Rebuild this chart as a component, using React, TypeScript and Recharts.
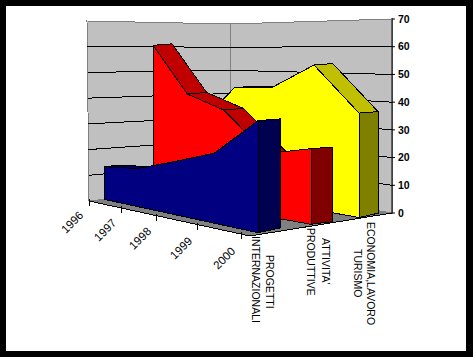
import React from "react";
import { Area, ComposedChart, Line, Scatter, XAxis, YAxis } from "recharts";

const W = 473;
const H = 357;

const YEARS = ["1996", "1997", "1998", "1999", "2000"];
const VALUE_TICKS = [0, 10, 20, 30, 40, 50, 60, 70];

const TURISMO = [28, 44.5, 45.8, 56.3, 39.4];
const ATTIVITA = [61.5, 43, 38.2, 23.5, 27.5];
const PROGETTI = [12.5, 14.2, 19, 24.6, 38];

// where each year falls along the category axis (the picture is in perspective)
const YEAR_POS = [0, 0.217, 0.447, 0.717, 1];

type Pt = [number, number];

const lerp = (a: number, b: number, t: number) => a + (b - a) * t;

// left/right floor ends of a series, px per unit and its thickness
const SERIES = [
  {
    values: TURISMO,
    from: [200, 189], to: [359, 217.5], k: [2.35, 2.65],
    depth: [18, 19], dyTop: -1.5, dyFloor: -4.3,
    front: "#FFFF00", top: "#C0C000", side: "#808000",
  },
  {
    values: ATTIVITA,
    from: [153, 196], to: [311, 224.3], k: [2.45, 2.75],
    depth: [19, 21], dyTop: -1.5, dyFloor: -2.6,
    front: "#FF0000", top: "#C00000", side: "#800000",
  },
  {
    values: PROGETTI,
    from: [104, 199.3], to: [258, 232.7], k: [2.6, 2.95],
    depth: [14, 22], dyTop: -1.7, dyFloor: -4.7,
    front: "#000080", top: "#000060", side: "#000050",
  },
];

// box corners on screen
const LEFT: Pt = [89, 201];
const BACK: Pt = [230, 186];
const RIGHT: Pt = [392, 213];
const FRONT: Pt = [250, 236];
const LEFT_TOP: Pt = [87, 21];
const BACK_TOP: Pt = [230, 24];
const RIGHT_TOP: Pt = [392, 19];

const wallPoint = (bottom: Pt, top: Pt, v: number): Pt => [
  lerp(bottom[0], top[0], v / 70),
  lerp(bottom[1], top[1], v / 70),
];

// split a polygon into [low, high] per x so Area can fill it
function toRange(poly: Pt[]) {
  const xs = Array.from(new Set(poly.map((p) => p[0]))).sort((a, b) => a - b);
  return xs.map((x) => {
    const ys: number[] = [];
    poly.forEach((p, i) => {
      const q = poly[(i + 1) % poly.length];
      const lo = Math.min(p[0], q[0]);
      const hi = Math.max(p[0], q[0]);
      if (x < lo || x > hi) return;
      if (p[0] === q[0]) ys.push(p[1], q[1]);
      else ys.push(lerp(p[1], q[1], (x - p[0]) / (q[0] - p[0])));
    });
    return { x, y: [Math.min(...ys), Math.max(...ys)] };
  });
}

const closed = (poly: Pt[]) => [...poly, poly[0]].map((p) => ({ x: p[0], o: p[1] }));
const open = (poly: Pt[]) => poly.map((p) => ({ x: p[0], o: p[1] }));

type Face = { poly: Pt[]; fill: string; stroke?: string };

function seriesFaces(s: (typeof SERIES)[number]): Face[] {
  const tops: Pt[] = [];
  const floors: Pt[] = [];
  const back: Pt[] = [];
  const backFloor: Pt[] = [];
  s.values.forEach((v, i) => {
    const u = YEAR_POS[i];
    const x = lerp(s.from[0], s.to[0], u);
    const y = lerp(s.from[1], s.to[1], u);
    const k = lerp(s.k[0], s.k[1], u);
    const d = lerp(s.depth[0], s.depth[1], u);
    tops.push([x, y - v * k]);
    floors.push([x, y]);
    back.push([x + d, y - v * k + s.dyTop]);
    backFloor.push([x + d, y + s.dyFloor]);
  });
  const faces: Face[] = [];
  for (let i = 0; i < tops.length - 1; i++) {
    faces.push({ poly: [tops[i], tops[i + 1], back[i + 1], back[i]], fill: s.top });
  }
  const last = tops.length - 1;
  faces.push({ poly: [tops[last], back[last], backFloor[last], floors[last]], fill: s.side });
  faces.push({ poly: [...tops, ...[...floors].reverse()], fill: s.front });
  return faces;
}

const WALLS: Face[] = [
  { poly: [LEFT, LEFT_TOP, BACK_TOP, BACK], fill: "#C0C0C0", stroke: "#808080" },
  { poly: [BACK, BACK_TOP, RIGHT_TOP, RIGHT], fill: "#C0C0C0", stroke: "#808080" },
  { poly: [LEFT, BACK, RIGHT, FRONT], fill: "#808080", stroke: "#808080" },
];

const GRID = VALUE_TICKS.slice(1, -1).map((v) => [
  wallPoint(LEFT, LEFT_TOP, v),
  wallPoint(BACK, BACK_TOP, v),
  wallPoint(RIGHT, RIGHT_TOP, v),
] as Pt[]);

const FACES: Face[] = SERIES.flatMap(seriesFaces);

const tickAt = (i: number): Pt => [
  lerp(LEFT[0], 241, YEAR_POS[i]),
  lerp(LEFT[1], 234, YEAR_POS[i]),
];

const YEAR_LABELS = YEARS.map((name, i) => {
  const p = tickAt(i);
  return { x: p[0] - 5, o: p[1] + 12 + 3 * YEAR_POS[i] + 3, name };
});

const SERIES_LABELS = [
  { x: 270, o: 255, name: "PROGETTI" },
  { x: 256, o: 236, name: "INTERNAZIONALI" },
  { x: 326, o: 238, name: "ATTIVITA'" },
  { x: 311, o: 228, name: "PRODUTTIVE" },
  { x: 371, o: 222, name: "ECONOMIA,LAVORO" },
  { x: 358, o: 249, name: "TURISMO" },
];

const FONT = "'Liberation Sans', Arial, sans-serif";

function YearLabel(props: any) {
  const { cx, cy, payload } = props;
  return (
    <text x={cx} y={cy} transform={`rotate(-45 ${cx} ${cy})`} textAnchor="end" fontFamily={FONT} fontSize={11.5} fill="#000">
      {payload.name}
    </text>
  );
}

function SeriesLabel(props: any) {
  const { cx, cy, payload } = props;
  return (
    <text x={cx} y={cy} transform={`rotate(90 ${cx} ${cy})`} dy={4} fontFamily={FONT} fontSize={10.5} fill="#000">
      {payload.name}
    </text>
  );
}

// every item gets its own zIndex, otherwise all outlines end up over all fills
let layer = 100;
function faceItems(f: Face, key: string) {
  const a = layer++;
  const l = layer++;
  return [
    <Area key={`${key}a`} zIndex={a} data={toRange(f.poly)} dataKey="y" type="linear" fill={f.fill} fillOpacity={1} stroke="none" dot={false} activeDot={false} isAnimationActive={false} shapeRendering="crispEdges" />,
    <Line key={`${key}l`} zIndex={l} data={closed(f.poly)} dataKey="o" type="linear" stroke={f.stroke ?? "#000000"} strokeWidth={1} dot={false} activeDot={false} isAnimationActive={false} shapeRendering="crispEdges" />,
  ];
}

function thinLine(poly: Pt[], key: string) {
  return (
    <Line key={key} zIndex={layer++} data={open(poly)} dataKey="o" type="linear" stroke="#000" strokeWidth={1} dot={false} activeDot={false} isAnimationActive={false} shapeRendering="crispEdges" />
  );
}

export default function App() {
  layer = 100;
  const walls = WALLS.flatMap((f, i) => faceItems(f, `w${i}`));
  const grid = GRID.map((g, i) => thinLine(g, `g${i}`));
  const edge = thinLine([LEFT, FRONT, RIGHT], "edge");
  const ticks = YEARS.map((_, i) => {
    const p = tickAt(i);
    return thinLine([[p[0], p[1] - 2], [p[0], p[1] + 5]], `t${i}`);
  });
  const faces = FACES.flatMap((f, i) => faceItems(f, `f${i}`));

  return (
    <div style={{ position: "absolute", left: 0, top: 0, width: W, height: H, background: "#000" }}>
      <div style={{ position: "absolute", left: 6, top: 6, width: 460, height: 345, background: "#fff" }} />
      <div style={{ position: "absolute", left: 0, top: 0 }}>
        <ComposedChart width={W} height={H} margin={{ top: 0, right: 0, bottom: 0, left: 0 }}>
          <XAxis type="number" dataKey="x" domain={[0, W]} hide allowDataOverflow />
          <YAxis type="number" domain={[0, H]} reversed hide allowDataOverflow />
          {walls}
          {grid}
          {edge}
          {ticks}
          {faces}
          <Scatter zIndex={layer + 1} data={YEAR_LABELS} dataKey="o" shape={YearLabel} isAnimationActive={false} />
          <Scatter zIndex={layer + 2} data={SERIES_LABELS} dataKey="o" shape={SeriesLabel} isAnimationActive={false} />
        </ComposedChart>
      </div>
      <div style={{ position: "absolute", left: 0, top: 0 }}>
        <ComposedChart width={W} height={H} margin={{ top: 19, right: 51, bottom: 144, left: 0 }} data={VALUE_TICKS.map((v) => ({ v }))}>
          <YAxis
            orientation="right"
            width={30}
            type="number"
            domain={[0, 70]}
            ticks={VALUE_TICKS}
            interval={0}
            tickSize={3}
            tickMargin={3}
            stroke="#000"
            tick={{ fontFamily: FONT, fontSize: 10.5, fontWeight: 700, fill: "#000" }}
          />
          <Line dataKey="v" stroke="none" dot={false} activeDot={false} isAnimationActive={false} />
        </ComposedChart>
      </div>
    </div>
  );
}
